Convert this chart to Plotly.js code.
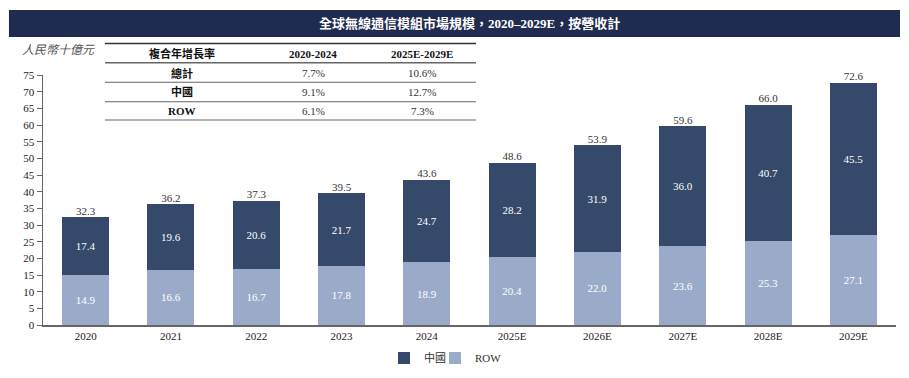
<!DOCTYPE html>
<html><head><meta charset="utf-8">
<script src="https://cdn.plot.ly/plotly-3.0.1.min.js"></script>
<style>html,body{margin:0;padding:0;background:#fff}#chart{width:909px;height:378px}</style>
</head><body><div id="chart"></div>
<script>
const years = ['2020','2021','2022','2023','2024','2025E','2026E','2027E','2028E','2029E'];
const china = [17.4,19.6,20.6,21.7,24.7,28.2,31.9,36.0,40.7,45.5];
const row = [14.9,16.6,16.7,17.8,18.9,20.4,22.0,23.6,25.3,27.1];
const totals = [32.3,36.2,37.3,39.5,43.6,48.6,53.9,59.6,66.0,72.6];
const chartTitle = '全球無線通信模組市場規模，2020–2029E，按營收計';
const unitLabel = '人民幣十億元';
const tableHeader = ['複合年增長率','2020-2024','2025E-2029E'];
const tableLabels = ['總計','中國','ROW'];
const cagr2020 = ['7.7%','9.1%','6.1%'];
const cagr2025 = ['10.6%','12.7%','7.3%'];

const SERIF = '"Liberation Serif","Times New Roman","Noto Sans CJK TC",serif';
const CJK = '"Liberation Serif","Noto Sans CJK TC",serif';

const traces = [
  {type:'bar', name:'ROW', legend:'legend2', x:years, y:row, marker:{color:'#9aabc9'},
   text:row.map(v=>v.toFixed(1)), textposition:'inside', insidetextanchor:'middle',
   textangle:0, constraintext:'none', textfont:{family:SERIF,size:11,color:'#ffffff'}, hoverinfo:'skip'},
  {type:'bar', name:'中國', legend:'legend', x:years, y:china, marker:{color:'#354a6a'},
   text:china.map(v=>v.toFixed(1)), textposition:'inside', insidetextanchor:'middle',
   textangle:0, constraintext:'none', textfont:{family:SERIF,size:11,color:'#ffffff'}, hoverinfo:'skip'},
  {type:'scatter', mode:'text', x:years, y:totals, text:totals.map(v=>v.toFixed(1)),
   textposition:'top center', textfont:{family:SERIF,size:11,color:'#333333'},
   showlegend:false, cliponaxis:false, hoverinfo:'skip'}
];

const ann = [];
const shapes = [];
shapes.push({type:'rect', xref:'paper', yref:'paper', x0:-0.0399, x1:1.0047, y0:1.152, y1:1.26,
  fillcolor:'#1f2c50', line:{width:0}, layer:'below'});
ann.push({xref:'paper', yref:'paper', x:0.5, y:1.206, text:'<b>'+chartTitle+'</b>', showarrow:false,
  font:{family:CJK, size:13, color:'#ffffff'}, xanchor:'center', yanchor:'middle'});
ann.push({xref:'paper', yref:'paper', x:(20-43)/853, y:(325-50)/250, text:'<i>'+unitLabel+'</i>', showarrow:false,
  font:{family:CJK, size:12, color:'#555555'}, xanchor:'left', yanchor:'middle'});
const px = v => (v-43)/853;
const py = v => (325-v)/250;
const colX = [182, 313, 422];
const lineY = [43.5, 62.7, 82.3, 101.7, 120];
lineY.forEach((ly,i)=>{
  shapes.push({type:'line', xref:'paper', yref:'paper', x0:px(105), x1:px(476), y0:py(ly), y1:py(ly),
    line:{color: i===0 ? '#333333' : '#666666', width: (i===0||i===1)?1.6:1.1}});
});
tableHeader.forEach((t,j)=>{
  ann.push({xref:'paper', yref:'paper', x:px(colX[j]), y:py(54), text:'<b>'+t+'</b>', showarrow:false,
    font:{family:CJK, size:11, color:'#111111'}, xanchor:'center', yanchor:'middle'});
});
const rowY = [73.3, 92, 110.7];
tableLabels.forEach((t,i)=>{
  ann.push({xref:'paper', yref:'paper', x:px(colX[0]), y:py(rowY[i]), text:'<b>'+t+'</b>', showarrow:false,
    font:{family:CJK, size:11, color:'#111111'}, xanchor:'center', yanchor:'middle'});
  ann.push({xref:'paper', yref:'paper', x:px(colX[1]), y:py(rowY[i]), text:cagr2020[i], showarrow:false,
    font:{family:SERIF, size:11, color:'#333333'}, xanchor:'center', yanchor:'middle'});
  ann.push({xref:'paper', yref:'paper', x:px(colX[2]), y:py(rowY[i]), text:cagr2025[i], showarrow:false,
    font:{family:SERIF, size:11, color:'#333333'}, xanchor:'center', yanchor:'middle'});
});

const legendCommon = {orientation:'h', yanchor:'middle', xanchor:'left', y:-0.132,
  font:{family:CJK, size:11, color:'#333333'}, bgcolor:'rgba(0,0,0,0)'};

const layout = {
  width:909, height:378,
  margin:{l:43, r:13, t:75, b:53, autoexpand:false},
  paper_bgcolor:'#ffffff', plot_bgcolor:'#ffffff',
  barmode:'stack', bargap:0.45,
  showlegend:true,
  legend:Object.assign({}, legendCommon, {x:px(384)}),
  legend2:Object.assign({}, legendCommon, {x:px(435)}),
  xaxis:{type:'category', showline:true, linecolor:'#666666', linewidth:1.5, ticks:'',
    tickfont:{family:SERIF, size:11, color:'#222222'}, showgrid:false, zeroline:false, fixedrange:true, automargin:false},
  yaxis:{range:[0,75], dtick:5, showline:true, linecolor:'#666666', linewidth:1.5, ticks:'outside',
    ticklen:5, tickcolor:'#666666', tickfont:{family:SERIF, size:11, color:'#222222'},
    showgrid:false, zeroline:false, fixedrange:true, automargin:false},
  annotations:ann, shapes:shapes,
  font:{family:SERIF}
};
Plotly.newPlot('chart', traces, layout, {displayModeBar:false, staticPlot:true});
</script>
</body></html>
